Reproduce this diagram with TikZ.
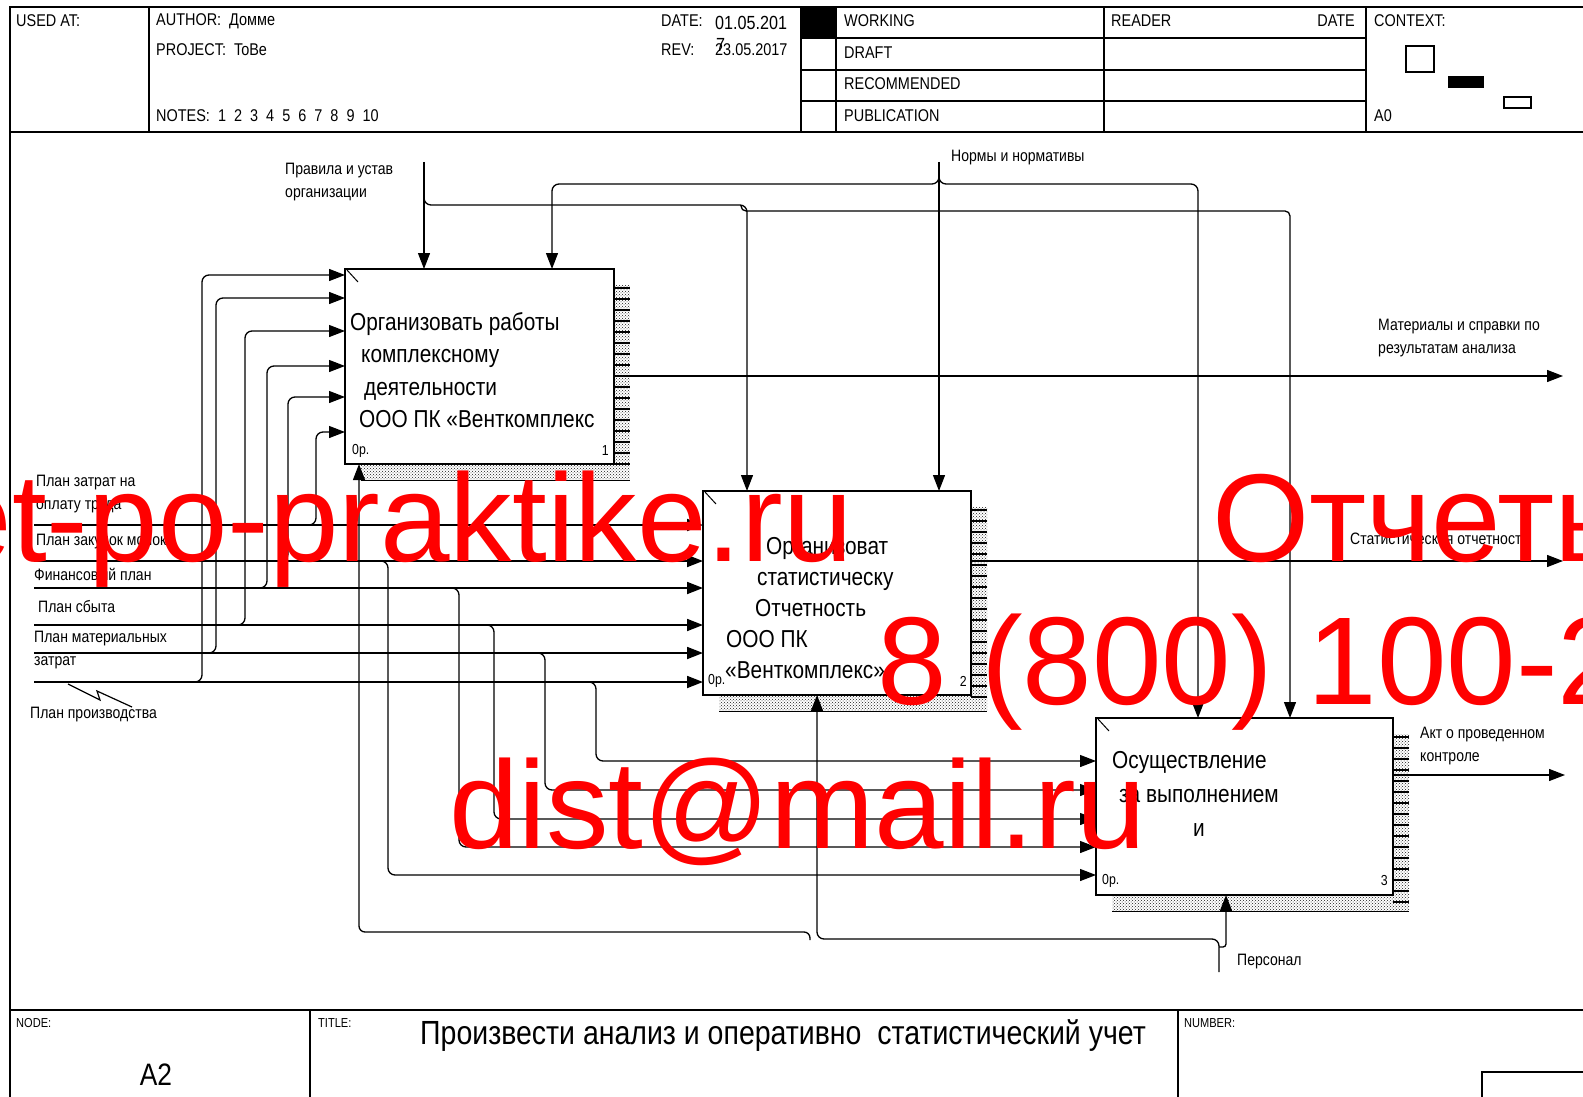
\documentclass[tikz,border=0pt]{standalone}
\usepackage{fontspec}
\setmainfont{Liberation Sans}[FakeStretch=0.85]
\newfontfamily\markfont{Liberation Sans}
\usetikzlibrary{arrows.meta, positioning, calc, patterns}
\definecolor{markred}{HTML}{FF0000}
\definecolor{shadowgray}{HTML}{1A1A1A}

\begin{document}
\begin{tikzpicture}[x=1pt, y=-1pt,
    frameline/.style={line width=1.6pt},
    flowlabel/.style={inner sep=0pt, anchor=west, align=left,
      font=\fontsize{16.5}{23}\selectfont},
    hdr/.style={inner sep=0pt, anchor=west, font=\fontsize{17}{20}\selectfont},
    smallhdr/.style={inner sep=0pt, anchor=west, font=\fontsize{13}{16}\selectfont},
    actbox/.style={draw, line width=1.6pt, fill=white, inner sep=0pt, outer sep=0pt},
    boxtext/.style={inner sep=0pt, anchor=north west, align=left},
    boxnum/.style={inner sep=0pt, font=\fontsize{14.5}{16}\selectfont},
    arr/.style={-{Triangle[length=16pt,width=12pt]}, line width=1.3pt},
    inarr/.style={arr, line width=1.8pt},
    link/.style={line width=1.2pt},
    watermark/.style={inner sep=0pt, text=markred,
      font=\markfont\fontsize{125}{125}\selectfont}
  ]
  \useasboundingbox (0,0) rectangle (1583,1097);
  \clip (0,0) rectangle (1583,1097);

  % frame and header
  \draw[frameline] (10,1097) -- (10,7) -- (1583,7);
  \draw[frameline] (10,132) -- (1583,132);
  \draw[frameline] (10,1010) -- (1583,1010);
  \foreach \x in {149,801,836,1104,1366}
    \draw[frameline] (\x,7) -- (\x,132);
  \foreach \y in {38,70,101}
    \draw[frameline] (801,\y) -- (1366,\y);
  \fill (801,7) rectangle (836,38);
  \draw[line width=1.2pt] (1406,46) rectangle (1434,72);
  \fill (1448,76) rectangle (1484,88);
  \draw[line width=1.2pt] (1504,97) rectangle (1531,108);
  \draw[frameline] (310,1010) -- (310,1097);
  \draw[frameline] (1178,1010) -- (1178,1097);
  \draw[frameline] (1482,1097) -- (1482,1072) -- (1583,1072);

  \node[hdr] (usedat) at (16,21) {USED AT:};
  \node[hdr] (author) at (156,21) {AUTHOR:\ \ Домме};
  \node[hdr] (project) at (156,50) {PROJECT:\ \ ToBe};
  \node[hdr] (notes) at (156,116) {NOTES:\ \ 1\ \ 2\ \ 3\ \ 4\ \ 5\ \ 6\ \ 7\ \ 8\ \ 9\ \ 10};
  \node[hdr] (datelbl) at (661,21) {DATE:};
  \node[hdr, font=\fontsize{19}{22}\selectfont] (dateval) at (715,23) {01.05.201};
  \node[hdr] (revlbl) at (661,50) {REV:};
  \node[hdr] (revval) at (715,50) {23.05.2017};
  \node[hdr, font=\fontsize{19}{22}\selectfont] (datecut) at (716,45) {7};
  \node[hdr] (working) at (844,21) {WORKING};
  \node[hdr] (draft) at (844,53) {DRAFT};
  \node[hdr] (recomm) at (844,84) {RECOMMENDED};
  \node[hdr] (public) at (844,116) {PUBLICATION};
  \node[hdr] (reader) at (1111,21) {READER};
  \node[hdr, anchor=east] (readdate) at (1355,21) {DATE};
  \node[hdr] (context) at (1374,21) {CONTEXT:};
  \node[hdr] (ctxnode) at (1374,116) {A0};
  \node[smallhdr] (nodelbl) at (16,1023) {NODE:};
  \node[smallhdr] (titlelbl) at (318,1023) {TITLE:};
  \node[smallhdr] (numlbl) at (1184,1023) {NUMBER:};
  \node[inner sep=0pt, font=\fontsize{31}{34}\selectfont] (nodeval) at (156,1075) {A2};
  \node[inner sep=0pt, font=\fontsize{33.5}{36}\selectfont] (title) at (783,1036)
    {Произвести анализ и оперативно\ \ статистический учет};

  % shadows
  \foreach \l/\t/\r/\b in {345/269/614/464, 703/491/971/695, 1096/718/1393/895} {
    \path[pattern=crosshatch dots, pattern color=shadowgray]
      (\r,\t+16) -- (\r+16,\t+16) -- (\r+16,\b+16) -- (\l+16,\b+16)
      -- (\l+16,\b) -- (\r,\b) -- cycle;
    \pgfmathtruncatemacro\n{(\b-\t)/11}
    \foreach \k in {1,...,\n}
      \draw[line width=2pt] (\r,\t+11*\k+8) -- ++(16,0);
    \draw[line width=1pt] (\l+16,\b+16) -- (\r+16,\b+16);
  }

  % activity boxes
  \node[actbox, minimum width=269pt, minimum height=195pt] (b1) at (479.5,366.5) {};
  \node[actbox, minimum width=268pt, minimum height=204pt] (b2) at (837,593) {};
  \node[actbox, minimum width=297pt, minimum height=177pt] (b3) at (1244.5,806.5) {};
  \foreach \bx in {b1,b2,b3}
    \draw[line width=1pt] ([shift={(2,1)}]\bx.north west) -- ++(11,12);

  \node[boxtext, font=\fontsize{24.5}{32.5}\selectfont] (t1) at (350,312)
    {Организовать работы\\\hspace*{11pt}комплексному\\\hspace*{14pt}деятельности\\
     \hspace*{9pt}ООО ПК «Венткомплекс};
  \node[boxtext, font=\fontsize{24.5}{31}\selectfont] (t2) at (725,537)
    {\hspace*{41pt}Организоват\\\hspace*{32pt}статистическу\\\hspace*{30pt}Отчетность\\
     \hspace*{1pt}ООО ПК\\«Венткомплекс»};
  \node[boxtext, font=\fontsize{24.5}{34}\selectfont] (t3) at (1112,751)
    {Осуществление\\\hspace*{7pt}за выполнением\\\hspace*{81pt}и};
  \node[boxnum, anchor=west] (n1a) at (352,451) {0р.};
  \node[boxnum, anchor=east] (n1b) at (609,451) {1};
  \node[boxnum, anchor=west] (n2a) at (708,681) {0р.};
  \node[boxnum, anchor=east] (n2b) at (967,681) {2};
  \node[boxnum, anchor=west] (n3a) at (1102,881) {0р.};
  \node[boxnum, anchor=east] (n3b) at (1388,881) {3};

  % inputs
  \coordinate (pz) at (34,525);
  \coordinate (pk) at (34,561);
  \coordinate (fp) at (34,588);
  \coordinate (ps) at (34,625);
  \coordinate (pm) at (34,653);
  \coordinate (pp) at (34,682);
  \foreach \src in {pz,pk,fp,ps,pm,pp}
    \draw[inarr] (\src) -- (\src -| b2.west);
  \foreach \sy/\vx/\ty in {682/202/275, 653/216/298, 625/245/331,
                           588/267/366, 561/288/397, 525/316/432}
    \draw[arr, rounded corners=7pt] (\vx-9,\sy) -| (\vx,\ty) -- (b1.west |- 0,\ty);
  \foreach \sy/\vx/\ty in {561/388/875, 588/459/847, 625/494/819,
                           653/545/790, 682/596/761}
    \draw[arr, rounded corners=7pt] (\vx-9,\sy) -| (\vx,\ty) -- (b3.west |- 0,\ty);

  \node[flowlabel] (lpz) at (36,494) {План затрат на\\оплату труда};
  \node[flowlabel] (lpk) at (36,542) {План закупок молока};
  \node[flowlabel] (lfp) at (34,574) {Финансовый план};
  \node[flowlabel] (lps) at (38,607) {План сбыта};
  \node[flowlabel] (lpm) at (34,650) {План материальных\\затрат};
  \node[flowlabel] (lpp) at (30,715) {План производства};
  \draw[link] (68,684) -- (100,700) -- (97,691) -- (132,707);

  % controls
  \coordinate (ru) at (424,162);
  \draw[arr] (ru) -- (ru |- b1.north);
  \draw[arr, rounded corners=7pt] (424,197) |- (747,205) -- (747,0 |- b2.north);
  \draw[arr, rounded corners=5pt] (741,205) |- (1290,211) -- (1290,0 |- b3.north);
  \node[flowlabel] (lru) at (285,182) {Правила и устав\\организации};

  \coordinate (nr) at (939,162);
  \draw[arr] (nr) -- (nr |- b2.north);
  \draw[arr, rounded corners=7pt] (939,177) |- (552,184) -- (552,0 |- b1.north);
  \draw[arr, rounded corners=7pt] (939,177) |- (1198,184) -- (1198,0 |- b3.north);
  \node[flowlabel] (lnr) at (951,158) {Нормы и нормативы};

  % mechanisms
  \coordinate (pe) at (1219,972);
  \draw[arr, rounded corners=7pt] (pe) |- (817,939) -- (817,0 |- b2.south);
  \draw[arr, rounded corners=3pt] (1219,947) -| (1226,0 |- b3.south);
  \draw[arr, rounded corners=6pt] (810,940) |- (359,932) -- (359,0 |- b1.south);
  \node[flowlabel] (lpe) at (1237,962) {Персонал};

  % outputs
  \coordinate (o1) at (1563,376);
  \coordinate (o2) at (1563,561);
  \coordinate (o3) at (1565,775);
  \draw[arr] (b1.east |- o1) -- (o1);
  \draw[arr] (b2.east |- o2) -- (o2);
  \draw[arr] (b3.east |- o3) -- (o3);
  \node[flowlabel] (lo1) at (1378,338) {Материалы и справки по\\результатам анализа};
  \node[flowlabel] (lo2) at (1350,539) {Статистическая отчетность};
  \node[flowlabel] (lo3) at (1420,746) {Акт о проведенном\\контроле};

  % watermark
  \node[watermark, anchor=base east] (wm1) at (853,561) {et-po-praktike.ru};
  \node[watermark, anchor=base west] (wm2) at (1212,561) {Отчеты};
  \node[watermark, anchor=base west] (wm3) at (877,704) {8 (800) 100-2};
  \node[watermark, anchor=base west] (wm4) at (449,848) {dist@mail.ru};
\end{tikzpicture}
\end{document}
